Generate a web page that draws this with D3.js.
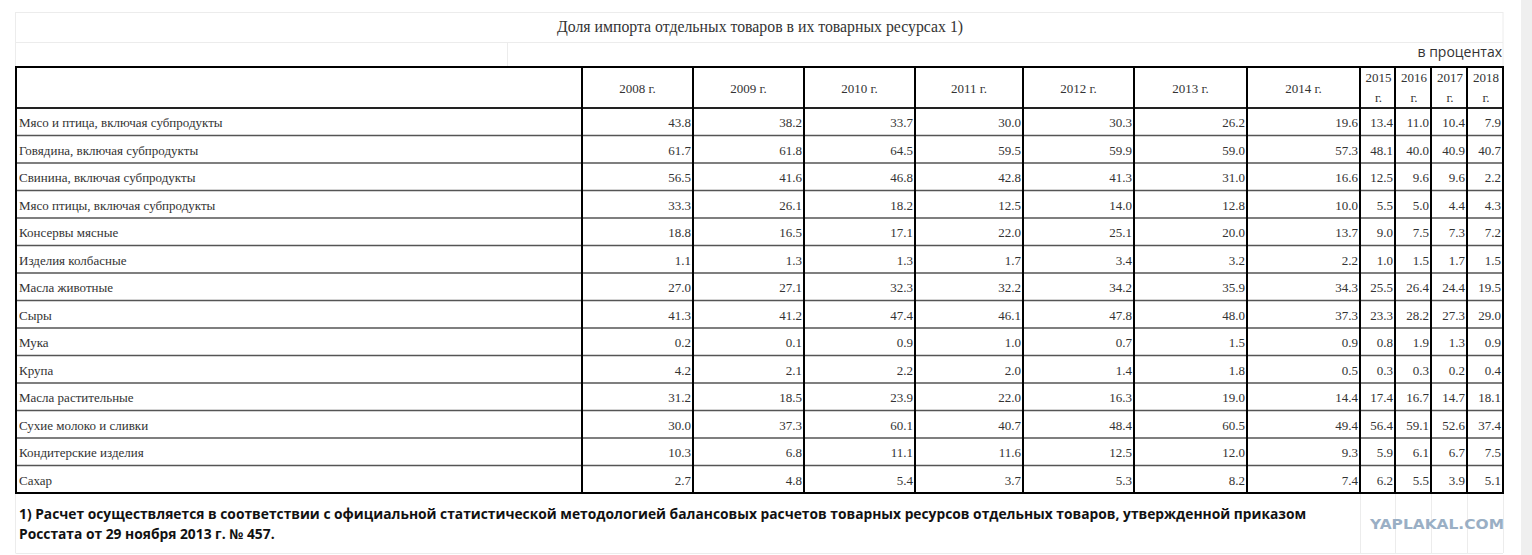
<!DOCTYPE html>
<html>
<head>
<meta charset="utf-8">
<script src="https://cdn.jsdelivr.net/npm/d3@7/dist/d3.min.js"></script>
<style>
  html, body { margin: 0; padding: 0; background: #fff; }
  svg { display: block; }
</style>
</head>
<body>
<div id="chart"></div>
<script>
var title = "Доля импорта отдельных товаров в их товарных ресурсах 1)";
var unitLabel = "в процентах";
var footnote = [
  "1) Расчет осуществляется в соответствии с официальной статистической методологией балансовых расчетов товарных ресурсов отдельных товаров, утвержденной приказом",
  "Росстата от 29 ноября 2013 г. № 457."
];

var years = ["2008", "2009", "2010", "2011", "2012", "2013", "2014", "2015", "2016", "2017", "2018"];

var products = [
  "Мясо и птица, включая субпродукты",
  "Говядина, включая субпродукты",
  "Свинина, включая субпродукты",
  "Мясо птицы, включая субпродукты",
  "Консервы мясные",
  "Изделия колбасные",
  "Масла животные",
  "Сыры",
  "Мука",
  "Крупа",
  "Масла растительные",
  "Сухие молоко и сливки",
  "Кондитерские изделия",
  "Сахар"
];

// one array per product, values by year 2008..2018
var meatPoultry   = [43.8, 38.2, 33.7, 30.0, 30.3, 26.2, 19.6, 13.4, 11.0, 10.4, 7.9];
var beef          = [61.7, 61.8, 64.5, 59.5, 59.9, 59.0, 57.3, 48.1, 40.0, 40.9, 40.7];
var pork          = [56.5, 41.6, 46.8, 42.8, 41.3, 31.0, 16.6, 12.5, 9.6, 9.6, 2.2];
var poultry       = [33.3, 26.1, 18.2, 12.5, 14.0, 12.8, 10.0, 5.5, 5.0, 4.4, 4.3];
var cannedMeat    = [18.8, 16.5, 17.1, 22.0, 25.1, 20.0, 13.7, 9.0, 7.5, 7.3, 7.2];
var sausages      = [1.1, 1.3, 1.3, 1.7, 3.4, 3.2, 2.2, 1.0, 1.5, 1.7, 1.5];
var butter        = [27.0, 27.1, 32.3, 32.2, 34.2, 35.9, 34.3, 25.5, 26.4, 24.4, 19.5];
var cheese        = [41.3, 41.2, 47.4, 46.1, 47.8, 48.0, 37.3, 23.3, 28.2, 27.3, 29.0];
var flour         = [0.2, 0.1, 0.9, 1.0, 0.7, 1.5, 0.9, 0.8, 1.9, 1.3, 0.9];
var groats        = [4.2, 2.1, 2.2, 2.0, 1.4, 1.8, 0.5, 0.3, 0.3, 0.2, 0.4];
var vegetableOil  = [31.2, 18.5, 23.9, 22.0, 16.3, 19.0, 14.4, 17.4, 16.7, 14.7, 18.1];
var driedMilk     = [30.0, 37.3, 60.1, 40.7, 48.4, 60.5, 49.4, 56.4, 59.1, 52.6, 37.4];
var confectionery = [10.3, 6.8, 11.1, 11.6, 12.5, 12.0, 9.3, 5.9, 6.1, 6.7, 7.5];
var sugar         = [2.7, 4.8, 5.4, 3.7, 5.3, 8.2, 7.4, 6.2, 5.5, 3.9, 5.1];

var values = [meatPoultry, beef, pork, poultry, cannedMeat, sausages, butter,
              cheese, flour, groats, vegetableOil, driedMilk, confectionery, sugar];

// ---- layout ----
var W = 1532, H = 555;
var tableLeft = 16, tableRight = 1503;
var headTop = 67, headBottom = 108, rowH = 27.5;
var labelColW = 566;
var yearColW = [111, 111, 111, 108, 111, 113, 113, 35, 36, 36, 36];

var svg = d3.select('#chart').append('svg')
  .attr('width', W)
  .attr('height', H);

// page shadow on the right
svg.append('rect').attr('x', 1521).attr('y', 0).attr('width', 11).attr('height', H).attr('fill', '#efefef');

// column edges from cumulative widths
var edges = [tableLeft, tableLeft + labelColW];
yearColW.forEach(function(w) { edges.push(edges[edges.length - 1] + w); });
var x = d3.scaleOrdinal().domain(years).range(edges.slice(1, -1));
var xRight = d3.scaleOrdinal().domain(years).range(edges.slice(2));

var y = d3.scaleBand()
  .domain(products)
  .range([headBottom, headBottom + rowH * products.length])
  .paddingInner(0).paddingOuter(0);
var tableBottom = headBottom + rowH * products.length;

// faint outer frame (page layout grid)
var faint = '#ececec';
var g0 = svg.append('g').attr('stroke', faint).attr('stroke-width', 1).attr('fill', 'none');
g0.append('rect').attr('x', 15.5).attr('y', 12.5).attr('width', tableRight - 15.5).attr('height', 55);
g0.append('line').attr('x1', 15.5).attr('x2', tableRight).attr('y1', 42.5).attr('y2', 42.5);
g0.append('line').attr('x1', 507.5).attr('x2', 507.5).attr('y1', 42.5).attr('y2', 67);
g0.append('line').attr('x1', 15.5).attr('x2', 15.5).attr('y1', tableBottom).attr('y2', 553);
g0.append('line').attr('x1', 15.5).attr('x2', tableRight).attr('y1', 553.5).attr('y2', 553.5);
edges.slice(-5).forEach(function(e) {
  g0.append('line').attr('x1', e + 0.5).attr('x2', e + 0.5).attr('y1', tableBottom).attr('y2', 553);
});

// title and unit
svg.append('text')
  .attr('x', 760).attr('y', 32)
  .attr('text-anchor', 'middle')
  .attr('font-family', '"Liberation Serif", "Times New Roman", serif')
  .attr('font-size', 15.8).attr('fill', '#333')
  .text(title);

svg.append('text')
  .attr('x', tableRight - 1).attr('y', 57)
  .attr('text-anchor', 'end')
  .attr('font-family', '"Open Sans", "Liberation Sans", sans-serif')
  .attr('font-size', 14).attr('fill', '#333')
  .text(unitLabel);

// row separators (grey, thin)
svg.append('g').selectAll('line')
  .data(products.slice(1))
  .enter().append('line')
  .attr('x1', tableLeft).attr('x2', tableRight)
  .attr('y1', function(d) { return y(d); })
  .attr('y2', function(d) { return y(d); })
  .attr('stroke', '#555').attr('stroke-width', 1.3);

// header bottom line
svg.append('line')
  .attr('x1', tableLeft).attr('x2', tableRight)
  .attr('y1', headBottom).attr('y2', headBottom)
  .attr('stroke', '#222').attr('stroke-width', 2);

// column separators (black, thick)
svg.append('g').selectAll('line')
  .data(years)
  .enter().append('line')
  .attr('x1', function(d) { return x(d); })
  .attr('x2', function(d) { return x(d); })
  .attr('y1', headTop).attr('y2', tableBottom)
  .attr('stroke', '#000').attr('stroke-width', 2);

// outer border
svg.append('rect')
  .attr('x', tableLeft).attr('y', headTop)
  .attr('width', tableRight - tableLeft).attr('height', tableBottom - headTop)
  .attr('fill', 'none').attr('stroke', '#000').attr('stroke-width', 2);

var serif = '"Liberation Serif", "Times New Roman", serif';

// header cells
var head = svg.append('g')
  .attr('font-family', serif).attr('font-size', 13).attr('fill', '#333')
  .attr('text-anchor', 'middle');
years.forEach(function(yr) {
  var cx = (x(yr) + xRight(yr)) / 2;
  var w = xRight(yr) - x(yr);
  if (w > 60) {
    head.append('text').attr('x', cx).attr('y', 93).text(yr + ' г.');
  } else {
    head.append('text').attr('x', cx + 1).attr('y', 82).text(yr);
    head.append('text').attr('x', cx + 1).attr('y', 102).text('г.');
  }
});

// body cells
var body = svg.append('g').attr('font-family', serif).attr('font-size', 13).attr('fill', '#333');

body.selectAll('text.label')
  .data(products)
  .enter().append('text')
  .attr('class', 'label')
  .attr('x', tableLeft + 3)
  .attr('y', function(d) { return y(d) + 19; })
  .text(function(d) { return d; });

products.forEach(function(p, i) {
  body.selectAll('text.v' + i)
    .data(values[i])
    .enter().append('text')
    .attr('class', 'v' + i)
    .attr('text-anchor', 'end')
    .attr('x', function(d, j) { return xRight(years[j]) - 2; })
    .attr('y', y(p) + 19)
    .text(function(d) { return d.toFixed(1); });
});

// footnote
svg.append('g')
  .attr('font-family', '"Open Sans", "Noto Sans", sans-serif')
  .attr('font-weight', 'bold').attr('font-size', 13.8).attr('fill', '#111')
  .selectAll('text')
  .data(footnote)
  .enter().append('text')
  .attr('x', 19)
  .attr('y', function(d, i) { return 519 + i * 20; })
  .text(function(d) { return d; });

// watermark
svg.append('text')
  .attr('x', 1370).attr('y', 529)
  .attr('font-family', '"DejaVu Sans", sans-serif')
  .attr('font-weight', 'bold').attr('font-size', 13.5)
  .attr('textLength', 134).attr('lengthAdjust', 'spacingAndGlyphs')
  .attr('fill', '#9aafc5')
  .text('YAPLAKAL.COM');
</script>
</body>
</html>
